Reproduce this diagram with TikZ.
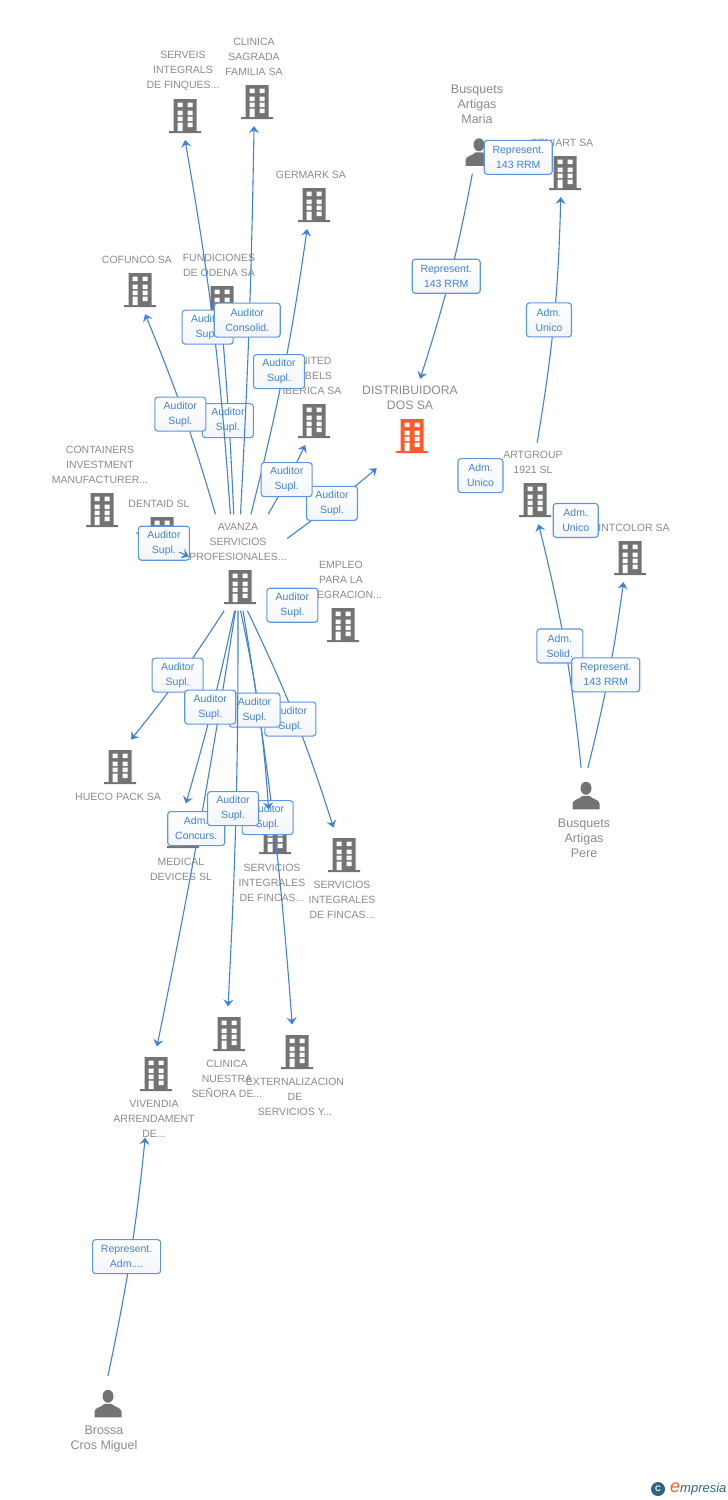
\documentclass[tikz,border=0pt]{standalone}
\usepackage{fontspec}
\setmainfont{Liberation Sans}
\usetikzlibrary{arrows.meta}
\definecolor{Slate}{HTML}{737373}
\definecolor{Ember}{HTML}{FF5A2C}
\definecolor{Caption}{HTML}{8A8A8A}
\definecolor{Wire}{HTML}{3F81E0}
\definecolor{TagEdge}{HTML}{5A95E6}
\definecolor{TagBottom}{HTML}{F3F5F8}
\definecolor{LogoBlue}{HTML}{2F6485}
\newcommand{\bldg}[1][Slate]{\tikz[x=1pt,y=-1pt]{
	\fill[#1] (-11.5,0) rectangle (11.5,32) (-16,32) rectangle (16,34);
	\foreach \r in {3.5,11.5,17.5}
		\fill[white] (-7.5,\r) rectangle (-2.5,\r+4.5) (2.5,\r) rectangle (7.5,\r+4.5);
	\fill[white] (-7.5,23.5) rectangle (-2.5,32) (2.5,23.5) rectangle (7.5,28);
}}
\newcommand{\mann}{\tikz[x=1pt,y=-1pt]{
	\fill[Slate] (0,6.5) ellipse (5.5 and 6.5);
	\fill[Slate] (-13.5,27.5) -- (-13.5,22) .. controls (-13.5,17.5) and (-6,17.5) .. (-3.5,14)
		-- (3.5,14) .. controls (6,17.5) and (13.5,17.5) .. (13.5,22) -- (13.5,27.5) -- cycle;
}}
\tikzset{
	firm/.style={inner sep=0,outer sep=7},
	lowfirm/.style={inner sep=0,outer sep=10.5},
	who/.style={inner sep=0,outer sep=8},
	caption/.style={text=Caption,align=center,inner sep=0,yshift=-0.7pt,font=\fontsize{10.5}{15}\selectfont},
	whotxt/.style={caption,font=\fontsize{12.5}{15}\selectfont},
	link/.style={draw=Wire,line width=1.1pt,-{Stealth[length=7pt,width=10pt,inset=2.5pt]}},
	tag/.style={draw=TagEdge,line width=1.1pt,rounded corners=3pt,top color=white,bottom color=TagBottom,
		text=Wire,align=center,inner sep=0,minimum width=#1,minimum height=34,
		font=\fontsize{10.5}{15}\selectfont},
	tag/.default=51
}
\begin{document}
\begin{tikzpicture}[x=1pt,y=-1pt]
\useasboundingbox (0,0) rectangle (728,1500);

% firms above the hub
\node [firm] (serveis) at (185,116) {\bldg};
\node [caption] (serveistxt) at (183,70) {SERVEIS\\INTEGRALS\\DE FINQUES...};
\node [firm] (sagrada) at (257,102) {\bldg};
\node [caption] (sagradatxt) at (254,56) {CLINICA\\SAGRADA\\FAMILIA SA};
\node [firm] (germark) at (314,205) {\bldg};
\node [caption] (germarktxt) at (311,174) {GERMARK SA};
\node [firm] (cofunco) at (140,290) {\bldg};
\node [caption] (cofuncotxt) at (137,259) {COFUNCO SA};
\node [firm] (fundiciones) at (222,303) {\bldg};
\node [caption] (fundicionestxt) at (219,265) {FUNDICIONES\\DE ODENA SA};
\node [firm] (united) at (314,421) {\bldg};
\node [caption] (unitedtxt) at (312,375) {UNITED\\LABELS\\IBERICA SA};
\node [firm] (containers) at (102,510) {\bldg};
\node [caption] (containerstxt) at (100,464) {CONTAINERS\\INVESTMENT\\MANUFACTURER...};
\node [firm] (dentaid) at (162,534) {\bldg};
\node [caption] (dentaidtxt) at (159,503) {DENTAID SL};

% the hub and the main firm
\node [firm] (avanzaicon) at (240,587) {\bldg};
\node [caption] (avanzatxt) at (238,541) {AVANZA\\SERVICIOS\\PROFESIONALES...};
\node [minimum width=98,minimum height=96,inner sep=0] (avanza) at (238,562.5) {};
\node [firm] (empleo) at (343,625) {\bldg};
\node [caption] (empleotxt) at (341,579) {EMPLEO\\PARA LA\\INTEGRACION...};
\node [firm] (disticon) at (412,436) {\bldg[Ember]};
\node [caption,font=\fontsize{12.2}{15}\selectfont] (disttxt) at (410,397) {DISTRIBUIDORA\\DOS SA};
\node [minimum width=82,minimum height=89,inner sep=0] (distribuidora) at (417,423.5) {};

% firms below the hub
\node [lowfirm] (hueco) at (120,767) {\bldg};
\node [caption] (huecotxt) at (118,796) {HUECO PACK SA};
\node [lowfirm] (medical) at (183,831) {\bldg};
\node [caption] (medicaltxt) at (181,868.5) {MEDICAL\\DEVICES SL};
\node [lowfirm] (servone) at (275,837) {\bldg};
\node [caption] (servonetxt) at (272,882) {SERVICIOS\\INTEGRALES\\DE FINCAS...};
\node [lowfirm] (servtwo) at (344,855) {\bldg};
\node [caption] (servtwotxt) at (342,899) {SERVICIOS\\INTEGRALES\\DE FINCAS...};
\node [lowfirm] (nuestra) at (229,1034) {\bldg};
\node [caption] (nuestratxt) at (227,1078) {CLINICA\\NUESTRA\\SEÑORA DE...};
\node [lowfirm] (externa) at (297,1052) {\bldg};
\node [caption] (externatxt) at (295,1096) {EXTERNALIZACION\\DE\\SERVICIOS Y...};
\node [lowfirm] (vivendia) at (156,1074) {\bldg};
\node [caption] (vivendiatxt) at (154,1118) {VIVENDIA\\ARRENDAMENT\\DE...};

% right hand group
\node [who] (maria) at (479,152) {\mann};
\node [whotxt] (mariatxt) at (477,104) {Busquets\\Artigas\\Maria};
\node [firm] (seniart) at (565,173) {\bldg};
\node [caption] (seniarttxt) at (562,142) {SENIART SA};
\node [firm] (artgroupicon) at (535,500) {\bldg};
\node [caption] (artgrouptxt) at (533,461.5) {ARTGROUP\\1921 SL};
\node [minimum width=64,minimum height=81,inner sep=0] (artgroup) at (535,483.5) {};
\node [firm] (intcolor) at (630,558) {\bldg};
\node [caption] (intcolortxt) at (634,527) {INTCOLOR SA};
\node [who,outer sep=14] (pere) at (586,795.5) {\mann};
\node [whotxt] (peretxt) at (584,838) {Busquets\\Artigas\\Pere};

% bottom person
\node [who,outer sep=14] (brossa) at (108,1403.5) {\mann};
\node [whotxt] (brossatxt) at (104,1438.5) {Brossa\\Cros Miguel};

% connectors and their tags, in stacking order
\draw [link,shorten >=8pt] (avanza.-29) to (empleo.150);
\path (avanza.-55) -- node [tag,xshift=-3.5,yshift=6] (tagempleo) {Auditor\\Supl.} (empleo.150);
\draw [link,shorten <=-3pt] (dentaid.180) to (avanza.173.6);
\path (dentaid.180) -- node [tag,yshift=2] (tagdentaid) {Auditor\\Supl.} (avanza.173.6);
\draw [link,shorten <=44pt] (dentaid.180) to (avanza.173.6);
\draw [link] (avanza.26.6) to [bend right=2] (distribuidora.-132.7);
\path (avanza.26.6) -- node [tag] (tagdist) {Auditor\\Supl.} (distribuidora.-132.7);
\draw [link] (avanza.95) to [bend right=1] (fundiciones.-90);
\path (avanza.95) -- node [tag] (tagfundiciones) {Auditor\\Supl.} (fundiciones.-90);
\draw [link] (avanza.115) to [bend right=3] (cofunco.-78);
\path (avanza.115) -- node [tag] (tagcofunco) {Auditor\\Supl.} (cofunco.-78);
\draw [link] (avanza.99.5) to [bend right=3] (serveis.-90);
\path (avanza.99.5) -- node [tag] (tagserveis) {Auditor\\Supl.} (serveis.-90);
\draw [link] (avanza.87.6) to [bend right=1] (sagrada.-97);
\path (avanza.87.6) -- node [tag=66] (tagsagrada) {Auditor\\Consolid.} (sagrada.-97);
\draw [link] (avanza.75) to [bend right=3] (germark.-106);
\path (avanza.75) -- node [tag] (taggermark) {Auditor\\Supl.} (germark.-106);
\draw [link] (avanza.58) to [bend right=2] (united.-110);
\path (avanza.58) -- node [tag] (tagunited) {Auditor\\Supl.} (united.-110);

\draw [link] (avanza.-106.3) to [bend left=3] (hueco.68);
\path (avanza.-106.3) -- node [tag] (taghueco) {Auditor\\Supl.} (hueco.68);
\draw [link] (avanza.-79.4) to [bend left=4] (servtwo.111.8);
\path (avanza.-79.4) -- node [tag] (tagservtwo) {Auditor\\Supl.} (servtwo.111.8);
\draw [link] (avanza.-84) to [bend left=2.5] (externa.100);
\path (avanza.-84) -- node [tag] (tagexterna) {Auditor\\Supl.} (externa.100);
\draw [link] (avanza.-87.6) to [bend left=4] (servone.103.5);
\path (avanza.-87.6) -- node [tag] (tagservone) {Auditor\\Supl.} (servone.103.5);
\draw [link] (avanza.-93.6) to [bend left=1.3] (vivendia.88);
\path (avanza.-93.6) -- node [tag=57] (tagvivendia) {Adm.\\Concurs.} (vivendia.88);
\draw [link] (avanza.-94.8) to [bend left=2] (medical.84);
\path (avanza.-94.8) -- node [tag] (tagmedical) {Auditor\\Supl.} (medical.84);
\draw [link] (avanza.-90) to [bend left=1.5] (nuestra.92);
\path (avanza.-90) -- node [tag] (tagnuestra) {Auditor\\Supl.} (nuestra.92);

\draw [link] (maria.-107) to [bend left=3.5] (distribuidora.86);
\path (maria.-107) -- node [tag=68] (tagmaria) {Represent.\\143 RRM} (distribuidora.86);
\draw [link] (maria.0) to (seniart.160);
\path (maria.0) -- node [tag=68,xshift=-3,yshift=1] (tagmariatwo) {Represent.\\143 RRM} (seniart.160);
\draw [link] (artgroup.87) to [bend right=4] (seniart.-100);
\path (artgroup.87) -- node [tag=45] (tagseniart) {Adm.\\Unico} (seniart.-100);
\draw [link] (artgroup.-172) to (distribuidora.-44.6);
\path (artgroup.-172) -- node [tag=45] (tagartdist) {Adm.\\Unico} (distribuidora.-44.6);
\draw [link] (artgroup.-34) to (intcolortxt.west);
\path (artgroup.-34) -- node [tag=45,xshift=-7,yshift=-4] (tagartint) {Adm.\\Unico} (intcolortxt.west);
\draw [link] (pere.100) to [bend right=4] (artgroup.-85);
\path (pere.100) -- node [tag=46] (tagpereart) {Adm.\\Solid.} (artgroup.-85);
\draw [link] (pere.86) to [bend right=3] (intcolor.-105);
\path (pere.86) -- node [tag=68] (tagpereint) {Represent.\\143 RRM} (intcolor.-105);
\draw [link] (brossa.90) to [bend right=3] (vivendiatxt.-115);
\path (brossa.90) -- node [tag=68] (tagbrossa) {Represent.\\Adm....} (vivendiatxt.-115);

% logo
\node [circle,fill=LogoBlue,text=white,minimum size=14,inner sep=0,font=\bfseries\fontsize{8}{8}\selectfont] (logoc) at (658,1489) {C};
\node [anchor=west,inner sep=0,font=\itshape\fontsize{13}{13}\selectfont] (logotxt) at (670,1489) {\textcolor{Ember}{\fontsize{18}{18}\selectfont e}\textcolor{LogoBlue}{mpresia}};
\end{tikzpicture}
\end{document}
